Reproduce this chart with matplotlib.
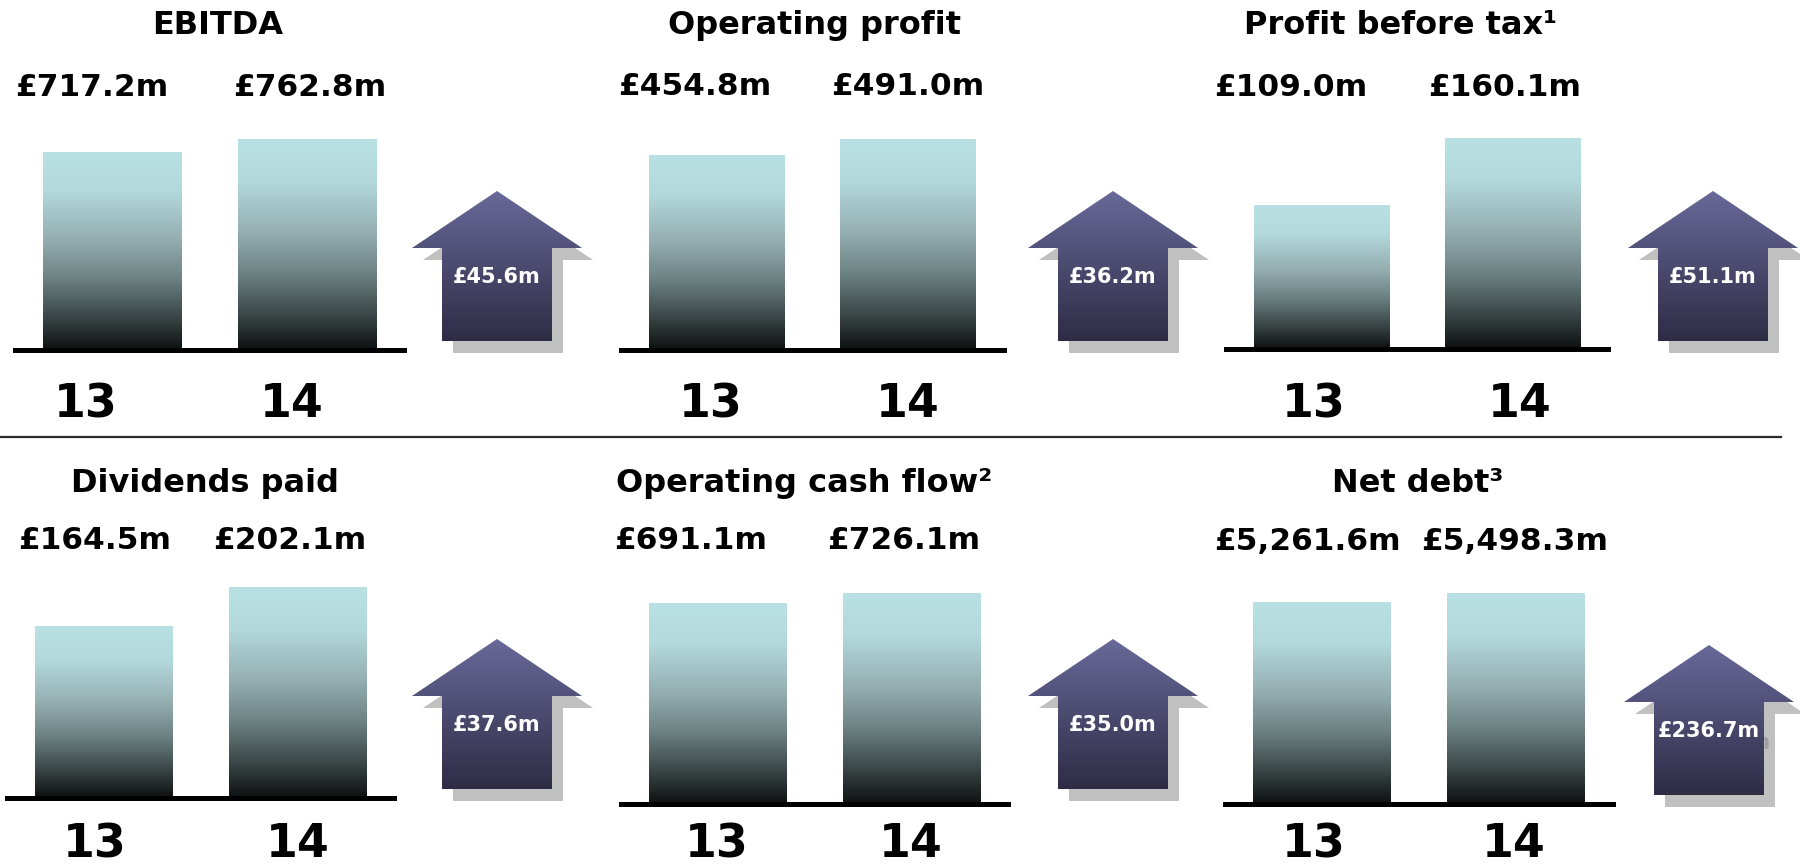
import matplotlib
matplotlib.use('Agg')
import matplotlib.pyplot as plt
import numpy as np
from matplotlib.colors import LinearSegmentedColormap
from matplotlib.patches import Polygon

# data
titles = ['EBITDA', 'Operating profit', 'Profit before tax\u00b9',
          'Dividends paid', 'Operating cash flow\u00b2', 'Net debt\u00b3']
years = ['13', '14']
values_13 = [717.2, 454.8, 109.0, 164.5, 691.1, 5261.6]
values_14 = [762.8, 491.0, 160.1, 202.1, 726.1, 5498.3]
changes = [45.6, 36.2, 51.1, 37.6, 35.0, 236.7]

# layout, in pixels of the 1800x868 canvas
W, H = 1800, 868
base = [(15, 404, 350), (621, 1004, 350), (1226, 1608, 349),
        (7, 394, 798), (621, 1008, 804), (1225, 1613, 804)]
title_xy = [(218, 34), (815, 34), (1401, 34), (205, 492), (804, 492), (1418, 492)]
value_x = [(92, 310), (695, 908), (1291, 1505), (95, 290), (691, 904), (1307, 1515)]
value_y = [96, 95, 96, 549, 549, 550]
year_x = [(86, 292), (711, 908), (1314, 1520), (95, 298), (717, 911), (1314, 1514)]
year_y = [417, 417, 417, 857, 857, 857]
arrow_x = [497, 1113, 1713, 497, 1113, 1709]
arrow_tip = [191, 191, 191, 639, 639, 645]
bar_px = 211

plt.rcParams['font.family'] = 'DejaVu Sans'

bar_cmap = LinearSegmentedColormap.from_list('bar', [
	(0.0, '#b9e0e3'), (0.2, '#b3d9dc'), (0.45, '#93adb0'),
	(0.65, '#6a7f80'), (0.8, '#435152'), (1.0, '#0e1011')])
arrow_cmap = LinearSegmentedColormap.from_list('arrow', ['#69699a', '#2e2c45'])
grad = np.linspace(0, 1, 256).reshape(-1, 1)

fig = plt.figure(figsize=(W / 100, H / 100), dpi=100)

for i in range(6):
	x0, x1, yb = base[i]
	ax = fig.add_axes([x0 / W, 1 - yb / H, (x1 - x0) / W, bar_px / H])
	vals = [values_13[i], values_14[i]]
	bars = ax.bar([0, 1], vals, width=0.71, color='none', edgecolor='none')
	for b in bars:
		x, w, h = b.get_x(), b.get_width(), b.get_height()
		im = ax.imshow(grad, cmap=bar_cmap, aspect='auto', origin='upper',
		               extent=[x, x + w, 0, h], zorder=1)
		im.set_clip_path(b)
	ax.axhline(0, color='black', lw=3.6, clip_on=False, zorder=3)
	ax.set_xlim(-0.5, 1.5)
	ax.set_ylim(0, values_14[i])
	ax.axis('off')

# overlay in pixel coordinates for text, arrows and the divider
ov = fig.add_axes([0, 0, 1, 1])
ov.axis('off')

# arrow outline relative to its tip
shape = np.array([(0, 0), (85, 57), (55, 57), (55, 150), (-55, 150), (-55, 57), (-85, 57)], float)

for i in range(6):
	tx, ty = title_xy[i]
	ov.text(tx, ty, titles[i], ha='center', va='baseline', fontsize=23, fontweight='bold')
	for j, v in enumerate([values_13[i], values_14[i]]):
		ov.text(value_x[i][j], value_y[i], f'\u00a3{v:,.1f}m', ha='center', va='baseline',
		        fontsize=22.5, fontweight='bold')
		ov.text(year_x[i][j], year_y[i], years[j], ha='center', va='baseline',
		        fontsize=33, fontweight='bold')

	# up arrow with drop shadow
	cx, tip = arrow_x[i], arrow_tip[i]
	pts = shape + [cx, tip]
	ov.add_patch(Polygon(pts + [11, 12], closed=True, facecolor='#c0c0c0', edgecolor='none', zorder=2))
	lab = f'\u00a3{changes[i]:,.1f}m'
	ov.text(cx + 11, tip + 92 + 12, lab, ha='center', va='baseline', fontsize=15,
	        fontweight='bold', color='#a0a0a0', zorder=2.5)
	poly = Polygon(pts, closed=True, facecolor='none', edgecolor='none', zorder=3)
	ov.add_patch(poly)
	im = ov.imshow(grad, cmap=arrow_cmap, aspect='auto', origin='upper',
	               extent=[cx - 85, cx + 85, tip + 150, tip], zorder=3)
	im.set_clip_path(poly)
	ov.text(cx, tip + 92, lab, ha='center', va='baseline', fontsize=15,
	        fontweight='bold', color='white', zorder=4)

ov.plot([0, 1781], [437, 437], color='#2b2b2b', lw=1.6)
ov.set_xlim(0, W)
ov.set_ylim(H, 0)

fig.savefig('out.png', dpi=100)
